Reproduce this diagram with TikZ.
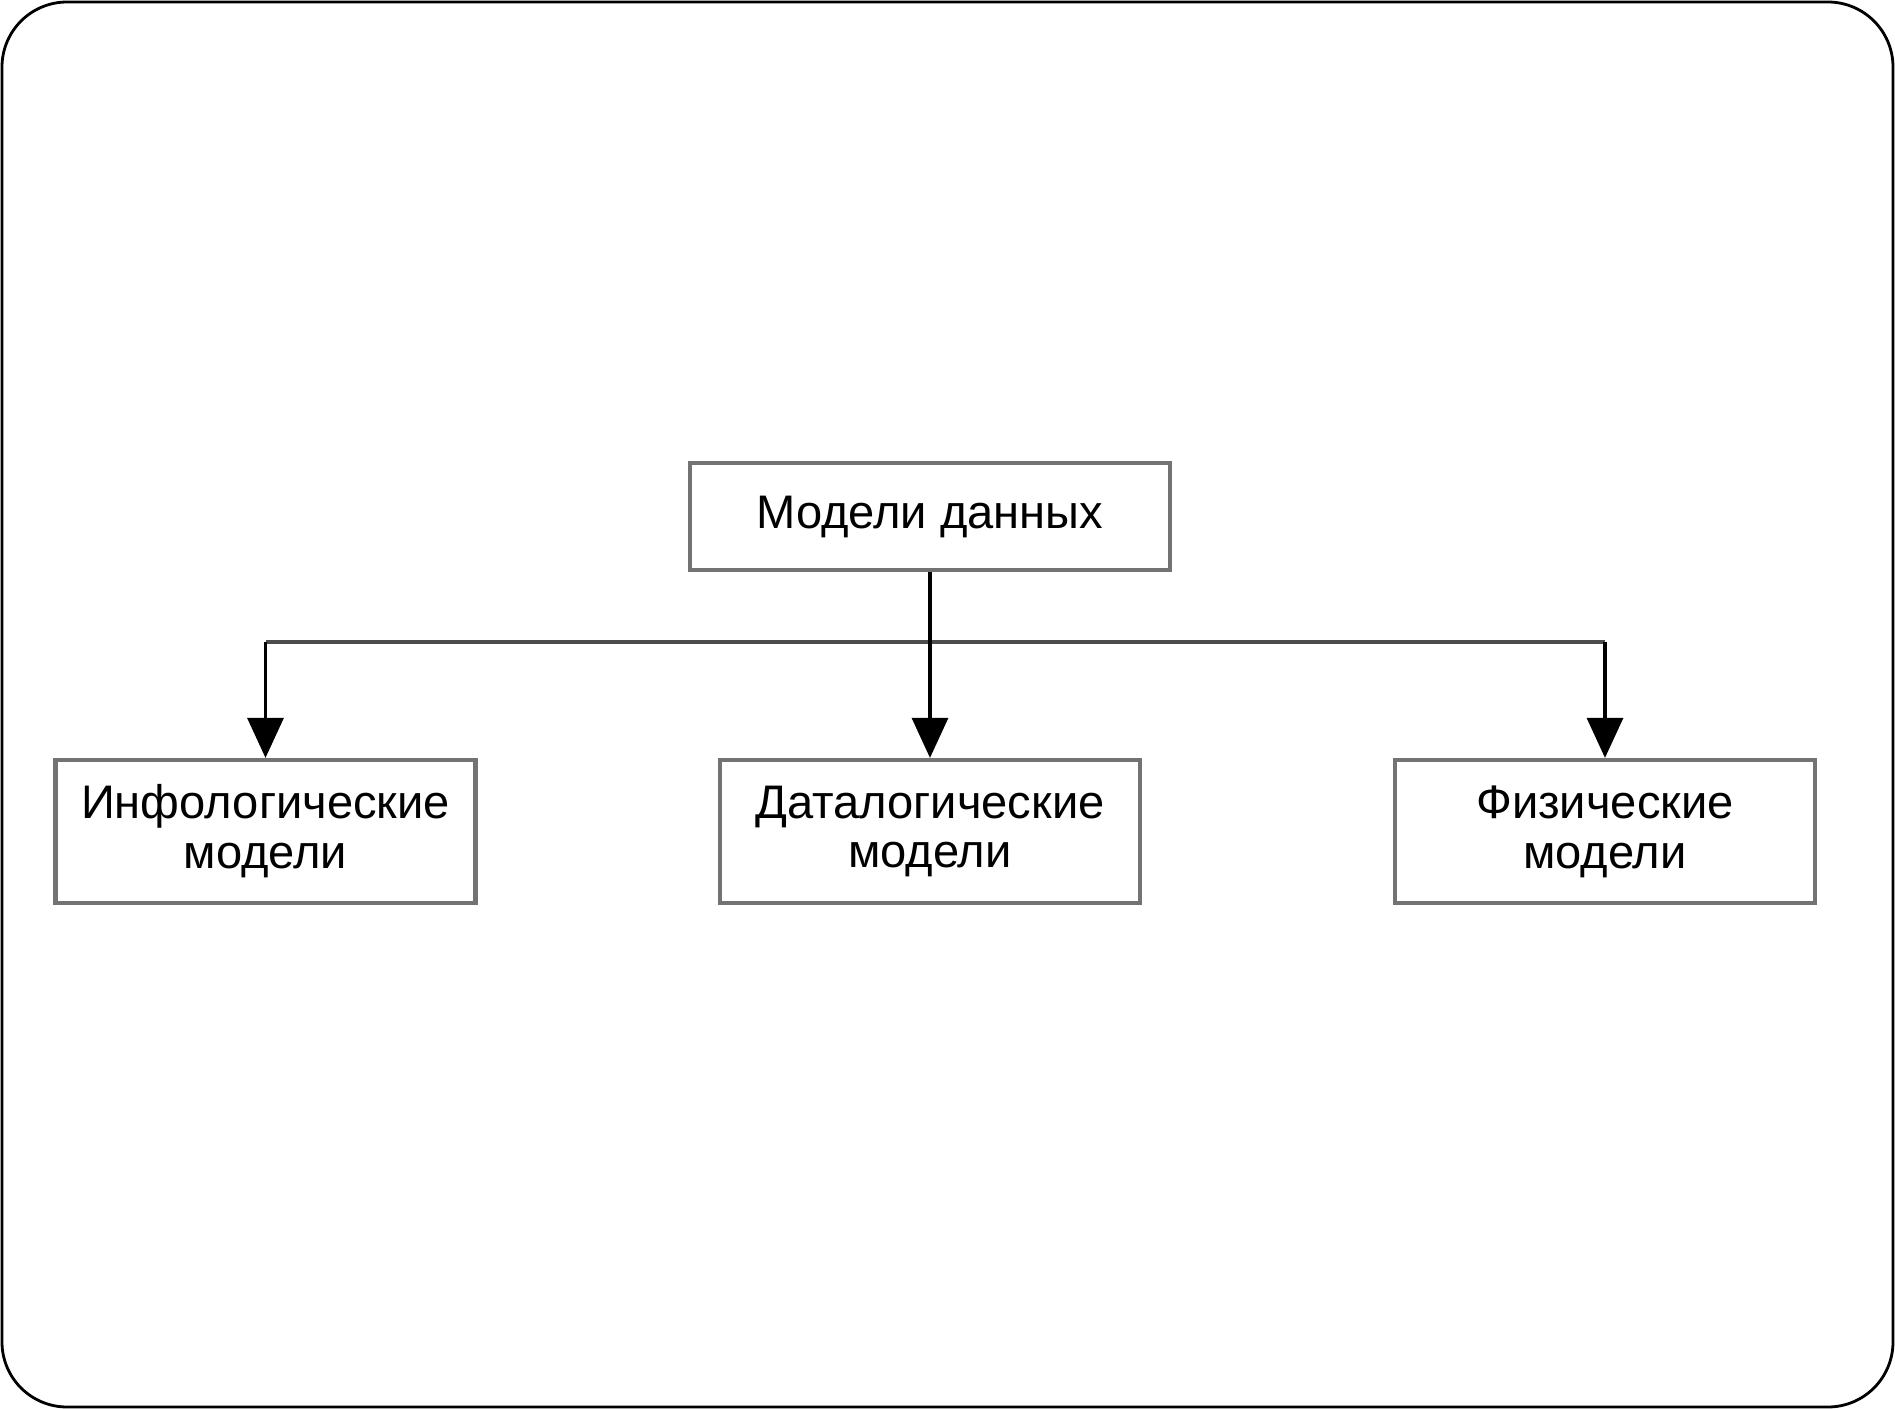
\documentclass[tikz,border=0pt]{standalone}
\usepackage{fontspec}
\setmainfont{Liberation Sans}
\usetikzlibrary{arrows.meta}

\tikzset{
	modelbox/.style={draw=black!55, line width=1.2pt, fill=white, inner sep=0pt,
		align=center, font=\fontsize{13.4}{14.2}\selectfont},
	bus/.style={draw=black!70, line width=1pt},
	feed/.style={draw=black, line width=0.9pt,
		-{Triangle[length=0.4cm,width=0.36cm]}}
}

\begin{document}
\begin{tikzpicture}
	\useasboundingbox (0,0) rectangle (18.95,-14.09);
	\draw[line width=0.8pt, rounded corners=0.65cm] (0.02,-0.02) rectangle (18.93,-14.07);

	\node[modelbox, minimum width=4.8cm, minimum height=1.07cm] (top) at (9.30,-5.165) {Модели данных};
	\node[modelbox, minimum width=4.2cm, minimum height=1.43cm, text width=4.0cm] (info) at (2.655,-8.315) {Инфологические\\модели};
	\node[modelbox, minimum width=4.2cm, minimum height=1.43cm, text width=4.0cm] (data) at (9.30,-8.315) {Даталогические\\модели};
	\node[modelbox, minimum width=4.2cm, minimum height=1.43cm, text width=4.0cm] (phys) at (16.05,-8.315) {Физические\\модели};

	\coordinate (split) at (0,-6.42);
	\draw[bus] (info.north |- split) -- (phys.north |- split);
	\draw[feed] (top.south) -- (data.north);
	\draw[feed] (info.north |- split) -- (info.north);
	\draw[feed] (phys.north |- split) -- (phys.north);
\end{tikzpicture}
\end{document}
